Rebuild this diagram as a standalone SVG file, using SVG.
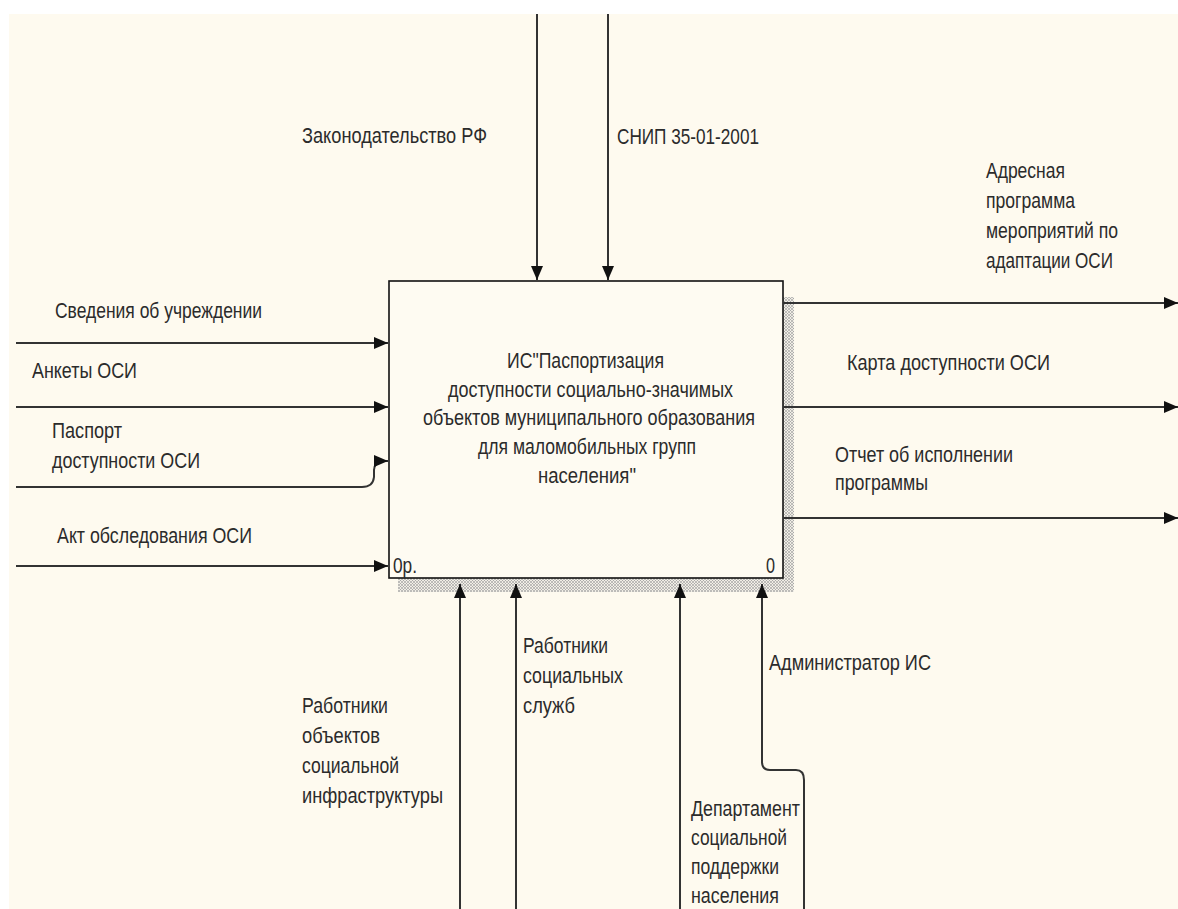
<svg xmlns="http://www.w3.org/2000/svg" width="1178" height="909" viewBox="0 0 1178 909">
<style>
.t{font-family:"Liberation Sans",Arial,sans-serif;font-size:21.5px;fill:#2b2b2b}
.c{fill:none;stroke:#333;stroke-width:2}
</style>
<defs>
<marker id="ah" markerUnits="userSpaceOnUse" markerWidth="15" markerHeight="12" refX="14" refY="6" orient="auto">
<path d="M0,0 L14,6 L0,12 z" fill="#111"/>
</marker>
<pattern id="hatch" patternUnits="userSpaceOnUse" width="3" height="3">
<rect width="3" height="3" fill="#f1eee6"/>
<path d="M0,0 L3,3 M3,0 L0,3" stroke="#9a9a9a" stroke-width="0.6"/>
</pattern>
</defs>
<rect width="1178" height="909" fill="#ffffff"/>
<rect x="9" y="14" width="1169" height="895" fill="#fefaef"/>

<g id="box">
<rect x="398" y="297" width="396" height="295" fill="url(#hatch)"/>
<rect x="389" y="281" width="394" height="297" fill="#fefbf2" stroke="#111" stroke-width="1.6"/>
<text class="t" x="507" y="368" textLength="157" lengthAdjust="spacingAndGlyphs">ИС"Паспортизация</text>
<text class="t" x="448" y="397" textLength="285" lengthAdjust="spacingAndGlyphs">доступности социально-значимых</text>
<text class="t" x="423" y="425" textLength="332" lengthAdjust="spacingAndGlyphs">объектов муниципального образования</text>
<text class="t" x="478" y="454" textLength="218" lengthAdjust="spacingAndGlyphs">для маломобильных групп</text>
<text class="t" x="538" y="483" textLength="98" lengthAdjust="spacingAndGlyphs">населения"</text>
<text class="t" x="393" y="573" textLength="24" lengthAdjust="spacingAndGlyphs">0р.</text>
<text class="t" x="766" y="573" textLength="9" lengthAdjust="spacingAndGlyphs">0</text>
</g>

<g id="connectors">
<path class="c" d="M537,14 V280" marker-end="url(#ah)"/>
<path class="c" d="M608,14 V280" marker-end="url(#ah)"/>
<path class="c" d="M16,343 H388" marker-end="url(#ah)"/>
<path class="c" d="M16,407 H388" marker-end="url(#ah)"/>
<path class="c" d="M16,487 H362 Q373,487 374,477 V470 Q375,461 383,461 H388" marker-end="url(#ah)"/>
<path class="c" d="M16,566 H388" marker-end="url(#ah)"/>
<path class="c" d="M783,303 H1178" marker-end="url(#ah)"/>
<path class="c" d="M783,407 H1178" marker-end="url(#ah)"/>
<path class="c" d="M783,518 H1178" marker-end="url(#ah)"/>
<path class="c" d="M460,909 V584" marker-end="url(#ah)"/>
<path class="c" d="M516,909 V584" marker-end="url(#ah)"/>
<path class="c" d="M680,909 V584" marker-end="url(#ah)"/>
<path class="c" d="M804,909 V780 Q804,770 796,770 H770 Q762,770 762,762 V584" marker-end="url(#ah)"/>
</g>

<g id="labels">
<text class="t" x="302" y="143" textLength="185" lengthAdjust="spacingAndGlyphs">Законодательство РФ</text>
<text class="t" x="617" y="144" textLength="142" lengthAdjust="spacingAndGlyphs">СНИП 35-01-2001</text>
<g id="lbl-adr">
<text class="t" x="986" y="178" textLength="79" lengthAdjust="spacingAndGlyphs">Адресная</text>
<text class="t" x="986" y="208" textLength="89" lengthAdjust="spacingAndGlyphs">программа</text>
<text class="t" x="986" y="238" textLength="132" lengthAdjust="spacingAndGlyphs">мероприятий по</text>
<text class="t" x="986" y="268" textLength="127" lengthAdjust="spacingAndGlyphs">адаптации ОСИ</text>
</g>
<text class="t" x="847" y="370" textLength="203" lengthAdjust="spacingAndGlyphs">Карта доступности ОСИ</text>
<g id="lbl-otchet">
<text class="t" x="835" y="462" textLength="178" lengthAdjust="spacingAndGlyphs">Отчет об исполнении</text>
<text class="t" x="835" y="490" textLength="93" lengthAdjust="spacingAndGlyphs">программы</text>
</g>
<text class="t" x="55" y="318" textLength="207" lengthAdjust="spacingAndGlyphs">Сведения об учреждении</text>
<text class="t" x="32" y="378" textLength="105" lengthAdjust="spacingAndGlyphs">Анкеты ОСИ</text>
<g id="lbl-pasport">
<text class="t" x="52" y="438" textLength="70" lengthAdjust="spacingAndGlyphs">Паспорт</text>
<text class="t" x="52" y="468" textLength="148" lengthAdjust="spacingAndGlyphs">доступности ОСИ</text>
</g>
<text class="t" x="57" y="543" textLength="195" lengthAdjust="spacingAndGlyphs">Акт обследования ОСИ</text>
<g id="lbl-rab-obj">
<text class="t" x="302" y="713" textLength="86" lengthAdjust="spacingAndGlyphs">Работники</text>
<text class="t" x="302" y="743" textLength="78" lengthAdjust="spacingAndGlyphs">объектов</text>
<text class="t" x="302" y="773" textLength="97" lengthAdjust="spacingAndGlyphs">социальной</text>
<text class="t" x="302" y="803" textLength="141" lengthAdjust="spacingAndGlyphs">инфраструктуры</text>
</g>
<g id="lbl-rab-sl">
<text class="t" x="523" y="653" textLength="85" lengthAdjust="spacingAndGlyphs">Работники</text>
<text class="t" x="523" y="683" textLength="100" lengthAdjust="spacingAndGlyphs">социальных</text>
<text class="t" x="523" y="713" textLength="52" lengthAdjust="spacingAndGlyphs">служб</text>
</g>
<text class="t" x="769" y="670" textLength="162" lengthAdjust="spacingAndGlyphs">Администратор ИС</text>
<g id="lbl-dep">
<text class="t" x="691" y="816" textLength="109" lengthAdjust="spacingAndGlyphs">Департамент</text>
<text class="t" x="691" y="845" textLength="96" lengthAdjust="spacingAndGlyphs">социальной</text>
<text class="t" x="691" y="874" textLength="88" lengthAdjust="spacingAndGlyphs">поддержки</text>
<text class="t" x="691" y="903" textLength="88" lengthAdjust="spacingAndGlyphs">населения</text>
</g>
</g>
</svg>
